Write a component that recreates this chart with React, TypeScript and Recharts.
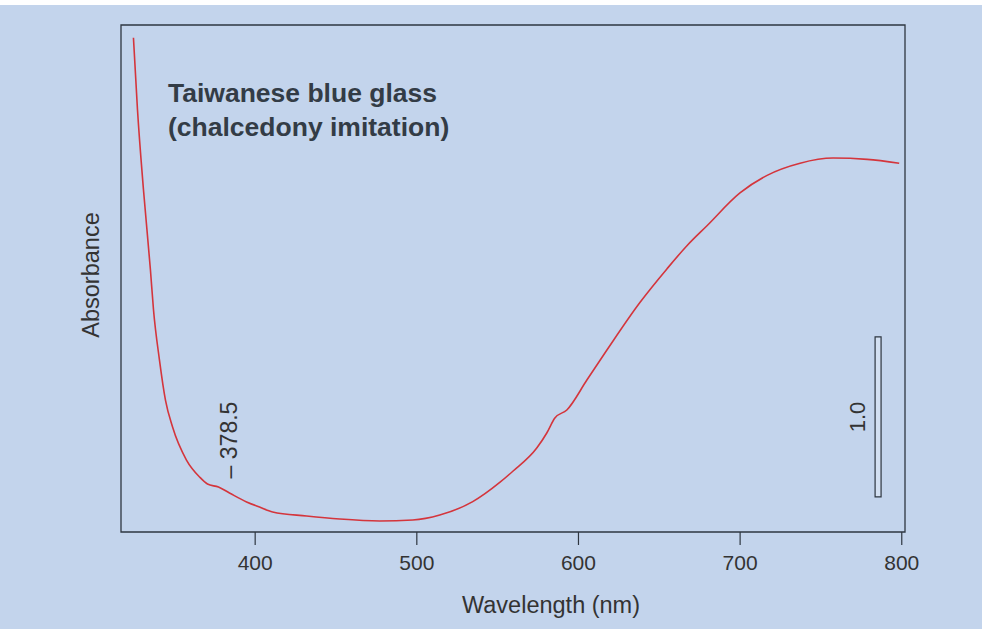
import React from 'react'
import {Line, LineChart, ReferenceArea, XAxis, YAxis} from 'recharts'

// wavelength (nm) and absorbance
const wavelength = [
    324.7, 327.2, 330.9, 335.2, 337.1, 340.8, 344.5, 348.9, 357.5, 365.6,
    370.5, 377.3, 384.1, 394.7, 402.7, 410.8, 431.8, 452.3, 477.0, 497.5,
    514.2, 534.6, 551.3, 559.4, 574.2, 580.4, 585.4, 592.8, 605.2, 617.6,
    638.0, 654.7, 667.1, 679.5, 699.9, 716.7, 737.1, 757.5, 778.6, 798.4,
]
const absorbance = [
    3.09, 2.64, 2.14, 1.64, 1.39, 1.075, 0.825, 0.656, 0.45, 0.344,
    0.30, 0.281, 0.244, 0.188, 0.156, 0.125, 0.10, 0.081, 0.069, 0.075,
    0.106, 0.19, 0.31, 0.38, 0.525, 0.619, 0.713, 0.763, 0.95, 1.138,
    1.435, 1.645, 1.79, 1.915, 2.12, 2.23, 2.306, 2.338, 2.33, 2.306,
]
const xTicks = [400, 500, 600, 700, 800]
const xDomain = [317, 802]
const yDomain = [0, 3.17]
// scale bar: 1.0 absorbance unit
const scaleBar = {x1: 783.5, x2: 787.2, y1: 0.22, y2: 1.22}

const data = wavelength.map((w, i) => ({nm: w, abs: absorbance[i]}))

const font = '"Liberation Sans", Arial, sans-serif'
const ink = '#2e3640'

const App = () => {
    return (
        <div style={{position: 'absolute', top: 0, left: 0, width: 982, height: 629, background: '#fff', fontFamily: font}}>
            <div style={{position: 'absolute', top: 5, left: 0, width: 982, height: 624, background: '#c3d4ec'}} />
            <div style={{position: 'absolute', top: 0, left: 0}}>
                <LineChart
                    width={982}
                    height={629}
                    data={data}
                    margin={{top: 25, right: 77, left: 121, bottom: 37}}
                >
                    <XAxis
                        dataKey="nm"
                        type="number"
                        domain={xDomain}
                        ticks={xTicks}
                        height={60}
                        axisLine={false}
                        tickSize={13}
                        tickMargin={10}
                        tickLine={{stroke: ink, strokeWidth: 1.2}}
                        tick={{fill: '#333', fontSize: 21, fontFamily: font}}
                        allowDataOverflow
                    />
                    <YAxis type="number" domain={yDomain} hide allowDataOverflow />
                    <ReferenceArea
                        x1={xDomain[0]}
                        x2={xDomain[1]}
                        y1={yDomain[0]}
                        y2={yDomain[1]}
                        fill="none"
                        stroke={ink}
                        strokeWidth={1.3}
                        ifOverflow="visible"
                    />
                    <ReferenceArea
                        x1={scaleBar.x1}
                        x2={scaleBar.x2}
                        y1={scaleBar.y1}
                        y2={scaleBar.y2}
                        fill="#d3e0f2"
                        fillOpacity={1}
                        stroke={ink}
                        strokeWidth={1.2}
                    />
                    <Line
                        type="monotone"
                        dataKey="abs"
                        stroke="#d4353c"
                        strokeWidth={1.6}
                        dot={false}
                        isAnimationActive={false}
                    />
                </LineChart>
            </div>

            <div style={{position: 'absolute', left: 168, top: 76, fontSize: 26.5, fontWeight: 'bold', lineHeight: '34px', color: '#333c46', whiteSpace: 'nowrap'}}>
                Taiwanese blue glass<br />(chalcedony imitation)
            </div>
            <div style={{position: 'absolute', left: 91, top: 275, transform: 'translate(-50%, -50%) rotate(-90deg)', fontSize: 23.5, color: '#333', whiteSpace: 'nowrap'}}>
                Absorbance
            </div>
            <div style={{position: 'absolute', left: 551, top: 605, transform: 'translate(-50%, -50%)', fontSize: 23.5, color: '#333', whiteSpace: 'nowrap'}}>
                Wavelength (nm)
            </div>
            <div style={{position: 'absolute', left: 229, top: 440, transform: 'translate(-50%, -50%) rotate(-90deg)', fontSize: 23, color: '#333', whiteSpace: 'nowrap'}}>
                – 378.5
            </div>
            <div style={{position: 'absolute', left: 858, top: 417, transform: 'translate(-50%, -50%) rotate(-90deg)', fontSize: 22, color: '#333', whiteSpace: 'nowrap'}}>
                1.0
            </div>
        </div>
    )
}

export default App
